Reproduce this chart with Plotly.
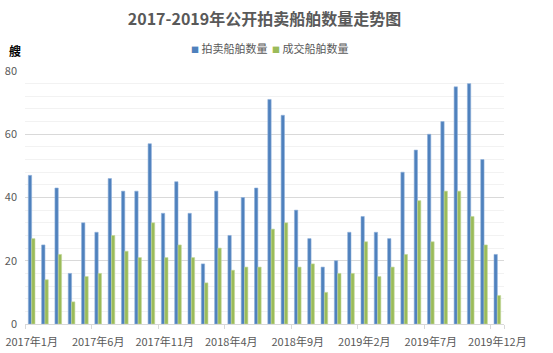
import plotly.graph_objects as go

months = [f"{y}年{m}月" for y in (2017, 2018, 2019) for m in range(1, 13)]
auction = [47, 25, 43, 16, 32, 29, 46, 42, 42, 57, 35, 45,
           35, 19, 42, 28, 40, 43, 71, 66, 36, 27, 18, 20,
           29, 34, 29, 27, 48, 55, 60, 64, 75, 76, 52, 22]
deals = [27, 14, 22, 7, 15, 16, 28, 23, 21, 32, 21, 25,
         21, 13, 24, 17, 18, 18, 30, 32, 18, 19, 10, 16,
         16, 26, 15, 18, 22, 39, 26, 42, 42, 34, 25, 9]
tick_labels = months[::5]
series_names = ["拍卖船舶数量", "成交船舶数量"]
colors = ["#4F81BD", "#9BBB59"]

FONT = "Noto Sans CJK SC, Microsoft YaHei, sans-serif"

fig = go.Figure()
fig.add_trace(go.Bar(x=months, y=auction, name=series_names[0], showlegend=False,
                     marker=dict(color=colors[0], line=dict(color="#8FB0DA", width=0.6))))
fig.add_trace(go.Bar(x=months, y=deals, name=series_names[1], showlegend=False,
                     marker=dict(color=colors[1], line=dict(color="#C3D89A", width=0.6))))

fig.update_layout(
    width=553, height=353,
    margin=dict(l=25, r=49, t=71, b=29, autoexpand=False),
    paper_bgcolor="white", plot_bgcolor="white",
    barmode="group", bargap=0.5, bargroupgap=0,
    font=dict(family=FONT, size=11, color="#595959"),
    title=dict(text="<b>2017-2019年公开拍卖船舶数量走势图</b>",
               x=0.5, xref="paper", xanchor="center",
               y=1 - 19 / 353, yanchor="middle",
               font=dict(family=FONT, size=16, color="#595959")),
    showlegend=False,
)
fig.update_xaxes(
    type="category", tickmode="array", tickvals=tick_labels, ticktext=tick_labels,
    tickson="boundaries", ticks="outside", ticklen=4, tickcolor="#d9d9d9",
    showline=True, linecolor="#d9d9d9", linewidth=1, showgrid=False,
    tickangle=0, tickfont=dict(size=11, color="#595959"),
    automargin=False, ticklabelstandoff=8,
)
fig.update_yaxes(
    range=[0, 80], dtick=20, showgrid=True, gridcolor="#d9d9d9", gridwidth=1,
    minor=dict(dtick=4, showgrid=True, gridcolor="#f2f2f2", gridwidth=1),
    zeroline=False, showline=False, ticks="", tickfont=dict(size=11, color="#595959"),
    automargin=False, ticklabelstandoff=7,
)
fig.add_annotation(text="<b>艘</b>", xref="paper", yref="paper",
                   x=(15 - 25) / 479, y=(324 - 50) / 253, showarrow=False,
                   xanchor="center", yanchor="middle",
                   font=dict(family=FONT, size=12, color="#000000"))

# legend drawn as text items
legend_x = [(189 - 25) / 479, (270 - 25) / 479]
for name, col, lx in zip(series_names, colors, legend_x):
    fig.add_annotation(text=f"<span style='color:{col};font-size:8px'>■</span> {name}",
                       xref="paper", yref="paper", x=lx, y=(324 - 48) / 253,
                       xanchor="left", yanchor="middle", showarrow=False,
                       font=dict(family=FONT, size=11, color="#595959"))

fig.write_html("out.html")
